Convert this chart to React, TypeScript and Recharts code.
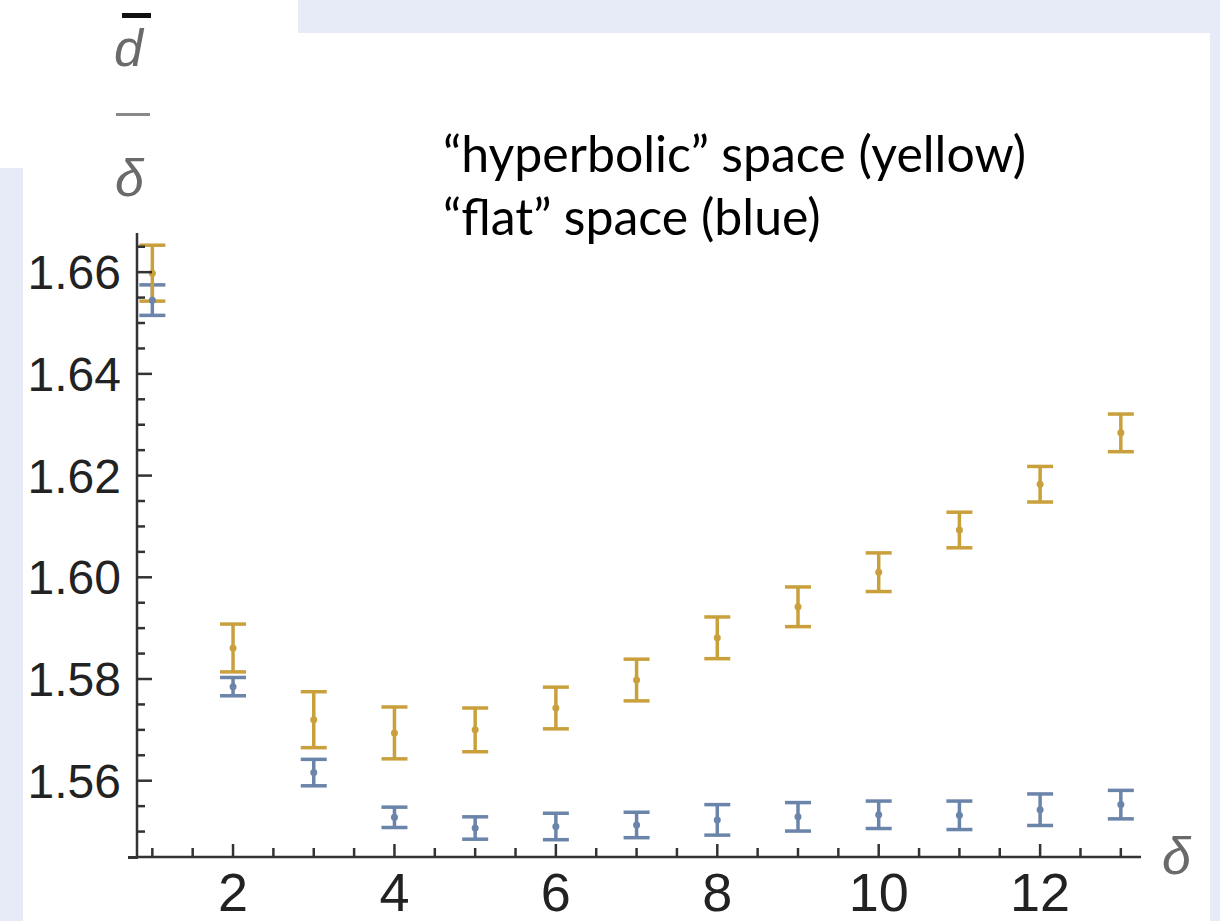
import React from 'react';
import { ScatterChart, Scatter, XAxis, YAxis, ErrorBar } from 'recharts';

const deltas = [1, 2, 3, 4, 5, 6, 7, 8, 9, 10, 11, 12, 13];
const hyperbolic = [1.6598, 1.5861, 1.572, 1.5694, 1.57, 1.5743, 1.5798, 1.5881, 1.5942, 1.601, 1.6093, 1.6183, 1.6284];
const hyperbolicErr = [0.0055, 0.0047, 0.0055, 0.0051, 0.0043, 0.0041, 0.0041, 0.0041, 0.0039, 0.0038, 0.0035, 0.0035, 0.0037];
const flat = [1.6545, 1.5785, 1.5616, 1.5528, 1.5507, 1.551, 1.5513, 1.5523, 1.5529, 1.5533, 1.5532, 1.5543, 1.5553];
const flatErr = [0.003, 0.0018, 0.0026, 0.002, 0.0022, 0.0026, 0.0025, 0.003, 0.0028, 0.0027, 0.0028, 0.0031, 0.0028];

const xMajorTicks = [2, 4, 6, 8, 10, 12];
const xMinorTicks = [1, 1.5, 2.5, 3, 3.5, 4.5, 5, 5.5, 6.5, 7, 7.5, 8.5, 9, 9.5, 10.5, 11, 11.5, 12.5, 13];
const yMajorTicks = [1.56, 1.58, 1.6, 1.62, 1.64, 1.66];
const yMinorTicks = [1.55, 1.555, 1.565, 1.57, 1.575, 1.585, 1.59, 1.595, 1.605, 1.61, 1.615, 1.625, 1.63, 1.635, 1.645, 1.65, 1.655, 1.665];

const hyperbolicData = deltas.map((d, i) => ({ x: d, y: hyperbolic[i], err: hyperbolicErr[i] }));
const flatData = deltas.map((d, i) => ({ x: d, y: flat[i], err: flatErr[i] }));

const YELLOW = '#c9a03c';
const BLUE = '#6b84a9';
const AXIS = '#333';
const LAVENDER = '#e7eaf7';

const XTick = (props: any) => {
  const { x, y, payload } = props;
  const major = xMajorTicks.includes(payload.value);
  return (
    <g>
      <line x1={x} x2={x} y1={y} y2={y - (major ? 13 : 9)} stroke={AXIS} strokeWidth={2.5} />
      {major && (
        <text x={x} y={y + 54} textAnchor="middle" fontSize={54} fill="#222" fontFamily="Liberation Sans, Arial, sans-serif">
          {payload.value}
        </text>
      )}
    </g>
  );
};

const YTick = (props: any) => {
  const { x, y, payload } = props;
  const major = yMajorTicks.includes(payload.value);
  return (
    <g>
      <line x1={x} x2={x + (major ? 15 : 8)} y1={y} y2={y} stroke={AXIS} strokeWidth={2.5} />
      {major && (
        <text x={x - 16} y={y + 17} textAnchor="end" fontSize={48} fill="#222" fontFamily="Liberation Sans, Arial, sans-serif">
          {payload.value.toFixed(2)}
        </text>
      )}
    </g>
  );
};

const Dot = (color: string) => (props: any) => {
  const { cx, cy } = props;
  return <circle cx={cx} cy={cy} r={3.5} fill={color} />;
};

const App: React.FC = () => {
  return (
    <div style={{ position: 'absolute', top: 0, left: 0, width: 1220, height: 921, background: LAVENDER, overflow: 'hidden' }}>
      <div style={{ position: 'absolute', left: 0, top: 0, width: 298, height: 33, background: '#fff' }} />
      <div style={{ position: 'absolute', left: 0, top: 33, width: 1210, height: 888, background: '#fff' }} />
      <div style={{ position: 'absolute', left: 0, top: 168, width: 23, height: 753, background: LAVENDER }} />

      <div style={{ position: 'absolute', left: 0, top: 0 }}>
        <ScatterChart width={1220} height={921} margin={{ top: 233, right: 79, bottom: 0, left: 0 }}>
          <XAxis
            type="number"
            dataKey="x"
            domain={[0.81, 13.25]}
            ticks={[...xMinorTicks, ...xMajorTicks].sort((a, b) => a - b)}
            interval={0}
            tick={<XTick />}
            tickLine={false}
            tickSize={0}
            tickMargin={0}
            height={64}
            axisLine={{ stroke: AXIS, strokeWidth: 2.5 }}
            allowDataOverflow
          />
          <YAxis
            type="number"
            dataKey="y"
            domain={[1.545, 1.6677]}
            ticks={[...yMinorTicks, ...yMajorTicks].sort((a, b) => a - b)}
            interval={0}
            tick={<YTick />}
            tickLine={false}
            tickSize={0}
            tickMargin={0}
            width={137}
            axisLine={{ stroke: AXIS, strokeWidth: 2.5 }}
            allowDataOverflow
          />
          <Scatter data={flatData} fill={BLUE} shape={Dot(BLUE)} isAnimationActive={false}>
            <ErrorBar dataKey="err" direction="y" width={13} strokeWidth={3.5} stroke={BLUE} isAnimationActive={false} />
          </Scatter>
          <Scatter data={hyperbolicData} fill={YELLOW} shape={Dot(YELLOW)} isAnimationActive={false}>
            <ErrorBar dataKey="err" direction="y" width={13} strokeWidth={3.5} stroke={YELLOW} isAnimationActive={false} />
          </Scatter>
        </ScatterChart>
      </div>

      {/* small overhang of the x axis to the left of the y axis */}
      <div style={{ position: 'absolute', left: 128, top: 856, width: 10, height: 2.5, background: AXIS }} />

      {/* y axis label: d-bar over delta */}
      <div style={{ position: 'absolute', left: 122, top: 13, width: 29, height: 5, background: '#111' }} />
      <div style={{ position: 'absolute', left: 114, top: 18, fontFamily: 'Liberation Sans, Arial, sans-serif', fontStyle: 'italic', fontSize: 52, color: '#6a6a6a', lineHeight: '60px' }}>d</div>
      <div style={{ position: 'absolute', left: 116, top: 113, width: 34, height: 3, background: '#888' }} />
      <div style={{ position: 'absolute', left: 115, top: 148, fontFamily: 'Liberation Sans, Arial, sans-serif', fontStyle: 'italic', fontSize: 52, color: '#6a6a6a', lineHeight: '60px' }}>δ</div>

      {/* x axis label */}
      <div style={{ position: 'absolute', left: 1162, top: 826, fontFamily: 'Liberation Sans, Arial, sans-serif', fontStyle: 'italic', fontSize: 52, color: '#6a6a6a', lineHeight: '60px' }}>δ</div>

      {/* annotation */}
      <div style={{ position: 'absolute', left: 443, top: 122, fontFamily: 'Lato, sans-serif', fontSize: 50, color: '#000', lineHeight: '63px', whiteSpace: 'nowrap' }}>
        <div>“hyperbolic” space (yellow)</div>
        <div>“flat” space (blue)</div>
      </div>
    </div>
  );
};

export default App;
